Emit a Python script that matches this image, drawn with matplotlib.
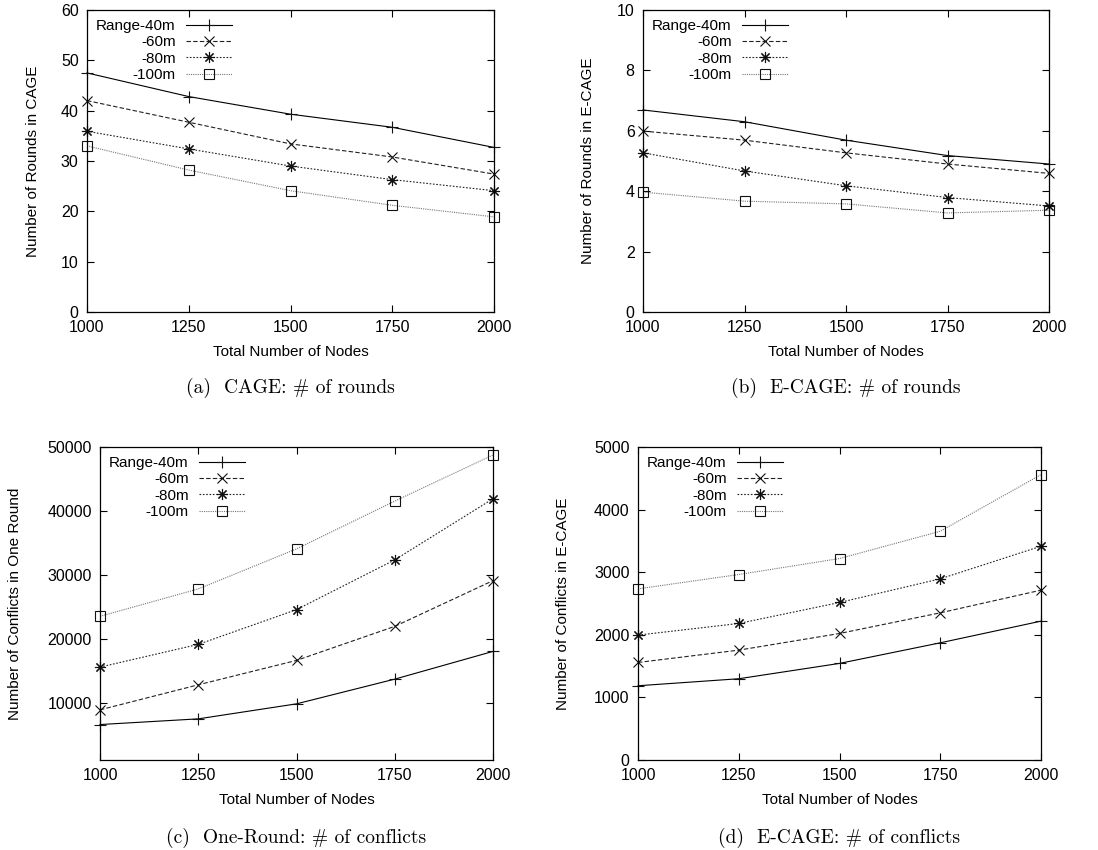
import matplotlib
matplotlib.use("Agg")
from matplotlib import pyplot as plt

plt.rcParams["font.family"] = ["Liberation Sans", "DejaVu Sans"]

# ---- data ----
nodes = [1000, 1250, 1500, 1750, 2000]
ranges = ["Range-40m", "-60m", "-80m", "-100m"]

rounds_cage = {
    "Range-40m": [47.5, 42.8, 39.3, 36.7, 32.7],
    "-60m": [42.0, 37.7, 33.4, 30.8, 27.4],
    "-80m": [35.9, 32.4, 29.0, 26.3, 24.1],
    "-100m": [33.0, 28.2, 24.1, 21.2, 18.9],
}
rounds_ecage = {
    "Range-40m": [6.69, 6.30, 5.69, 5.18, 4.90],
    "-60m": [5.99, 5.69, 5.27, 4.90, 4.59],
    "-80m": [5.27, 4.67, 4.18, 3.79, 3.51],
    "-100m": [3.97, 3.67, 3.58, 3.28, 3.37],
}
conflicts_oneround = {
    "Range-40m": [6550, 7440, 9790, 13660, 18000],
    "-60m": [8850, 12770, 16590, 21920, 29080],
    "-80m": [15540, 19100, 24540, 32330, 41900],
    "-100m": [23490, 27780, 34050, 41530, 48750],
}
conflicts_ecage = {
    "Range-40m": [1186, 1298, 1543, 1872, 2218],
    "-60m": [1558, 1755, 2021, 2351, 2713],
    "-80m": [1995, 2181, 2516, 2894, 3415],
    "-100m": [2734, 2963, 3218, 3654, 4559],
}

# gnuplot-like styles per range
styles = {
    "Range-40m": dict(color="black", ls="-", marker="+", ms=9),
    "-60m": dict(color="#222222", ls=(0, (4, 2)), marker="x", ms=7.5),
    "-80m": dict(color="#222222", ls=(0, (1.5, 1.5)), marker=(8, 2, 0), ms=8),
    "-100m": dict(color="#777777", ls=(0, (1, 1)), marker="s", ms=7.5,
                  mfc="none"),
}

W, H = 1098, 850


def px_axes(fig, left, right, top, bottom):
    return fig.add_axes([left / W, 1 - bottom / H, (right - left) / W, (bottom - top) / H])


def draw_panel(ax, data, ylim, yticks, ylabel, caption, ylab_px):
    for r in ranges:
        st = dict(styles[r])
        ax.plot(nodes, data[r], label=r, lw=0.8, mec="#111111", mew=0.8,
                clip_on=False, **st)
    ax.set_xlim(1000, 2000)
    ax.set_ylim(*ylim)
    ax.set_xticks(nodes)
    ax.set_yticks(yticks)
    ax.tick_params(direction="in", length=5, width=0.8, top=True, right=True,
                   labelsize=11.5, pad=6)
    for s in ax.spines.values():
        s.set_linewidth(0.9)
    ax.set_xlabel("Total Number of Nodes", fontsize=11, labelpad=7)
    ax.set_ylabel(ylabel, fontsize=11)
    # place y label centre at given pixel x (label anchor is its right side)
    left_px = ax.get_position().x0 * W
    width_px = ax.get_position().width * W
    ax.yaxis.set_label_coords((ylab_px + 7 - left_px) / width_px, 0.5)
    ax.legend(loc="upper left", bbox_to_anchor=(0.0, 1.0), frameon=False,
              markerfirst=False, fontsize=11, handlelength=3.0,
              labelspacing=0.15, handletextpad=0.7, borderaxespad=0.3,
              borderpad=0.3)
    ax.text(0.5, -0.25, caption, transform=ax.transAxes, ha="center", va="center",
            fontsize=14, family="cmr10")


fig = plt.figure(figsize=(W / 100, H / 100), dpi=100)

ax_a = px_axes(fig, 87, 494, 10, 312)
draw_panel(ax_a, rounds_cage, (0, 60), range(0, 61, 10), "Number of Rounds in CAGE",
           "(a)  CAGE: # of rounds", 33)

ax_b = px_axes(fig, 643, 1049, 10, 312)
draw_panel(ax_b, rounds_ecage, (0, 10), range(0, 11, 2), "Number of Rounds in E-CAGE",
           "(b)  E-CAGE: # of rounds", 588)

ax_c = px_axes(fig, 100, 493, 447, 760)
draw_panel(ax_c, conflicts_oneround, (1000, 50000), range(10000, 50001, 10000),
           "Number of Conflicts in One Round",
           "(c)  One-Round: # of conflicts", 15)

ax_d = px_axes(fig, 638, 1041, 447, 760)
draw_panel(ax_d, conflicts_ecage, (0, 5000), range(0, 5001, 1000),
           "Number of Conflicts in E-CAGE",
           "(d)  E-CAGE: # of conflicts", 563)

fig.savefig("out.png", dpi=100)
